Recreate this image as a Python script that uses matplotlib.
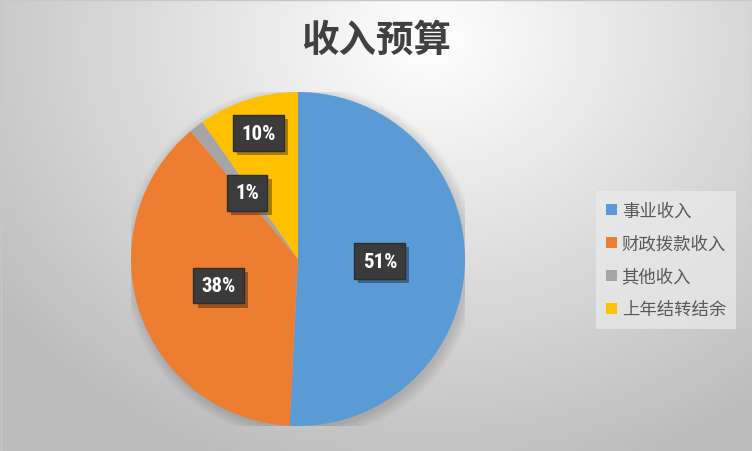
import numpy as np
import matplotlib
matplotlib.use('Agg')
import matplotlib.pyplot as plt
import matplotlib.patheffects as pe
from matplotlib.patches import Patch, Circle

plt.rcParams['font.family'] = ['Noto Sans CJK SC', 'DejaVu Sans']

# data
categories = ['事业收入', '财政拨款收入', '其他收入', '上年结转结余']
values = [50.8, 38.1, 1.4, 9.7]
colors = ['#5b9bd5', '#ed7d31', '#a5a5a5', '#ffc000']
label_r = [0.49, 0.50, 0.50, 0.79]

W, H = 752, 452
fig = plt.figure(figsize=(W / 100, H / 100), dpi=100)

# background radial gradient
bg = fig.add_axes([0, 0, 1, 1], zorder=-10)
yy, xx = np.mgrid[0:H, 0:W]
d = np.sqrt(((xx - 430) / 620.0) ** 2 + ((yy - 40) / 520.0) ** 2)
shade = np.clip(1.0 - 0.30 * d, 0.74, 1.0)
bg.imshow(np.dstack([shade] * 3), aspect='auto', extent=[0, W, H, 0])
bg.add_patch(plt.Rectangle((0.5, 0.5), W - 1, H - 1, fill=False, ec='#c8c8c8', lw=1))
bg.set_xlim(0, W)
bg.set_ylim(H, 0)
bg.axis('off')

cx, cy, r = 298, 260, 167
ax = fig.add_axes([(cx - r) / W, (H - cy - r) / H, 2 * r / W, 2 * r / H])

# soft shadow
for k in range(6):
    ax.add_patch(Circle((0.015, -0.02), 1.0 + 0.012 * k, color='#000000',
                        alpha=0.025, lw=0, zorder=0))

wedges, _ = ax.pie(values, colors=colors, startangle=90, counterclock=False,
                   radius=1.0, wedgeprops=dict(linewidth=0))
for w in wedges:
    w.set_zorder(2)

for w, v, rr in zip(wedges, values, label_r):
    ang = np.deg2rad((w.theta1 + w.theta2) / 2)
    t = ax.text(rr * np.cos(ang), rr * np.sin(ang), '{:.0f}%'.format(v),
                ha='center', va='center', color='white', fontsize=15,
                fontweight='bold',
                family=['Liberation Sans Narrow', 'Roboto Condensed', 'DejaVu Sans'],
                zorder=5,
                bbox=dict(boxstyle='square,pad=0.4', fc='#3b3b3b', ec='#2e2e2e', lw=1))
    t.get_bbox_patch().set_path_effects(
        [pe.SimplePatchShadow(offset=(3, -3), shadow_rgbFace='black', alpha=0.35),
         pe.Normal()])

ax.set_xlim(-1, 1)
ax.set_ylim(-1, 1)
ax.set_aspect('equal')
ax.axis('off')

fig.text(376 / W, 1 - 40 / H, '收入预算', ha='center', va='center',
         fontsize=27, fontweight='bold', color='#404040')

handles = [Patch(fc=c, ec='none') for c in colors]
leg = fig.legend(handles, categories, loc='center left',
                 bbox_to_anchor=(587 / W, 1 - 261 / H), frameon=True,
                 fontsize=12.5, labelcolor='#595959', handlelength=0.6,
                 handleheight=0.6, handletextpad=0.3, labelspacing=0.85,
                 borderpad=0.6, fancybox=False)
leg.get_frame().set_facecolor('#ebebeb')
leg.get_frame().set_edgecolor('none')
leg.get_frame().set_alpha(0.7)

fig.savefig('out.png', dpi=100)
